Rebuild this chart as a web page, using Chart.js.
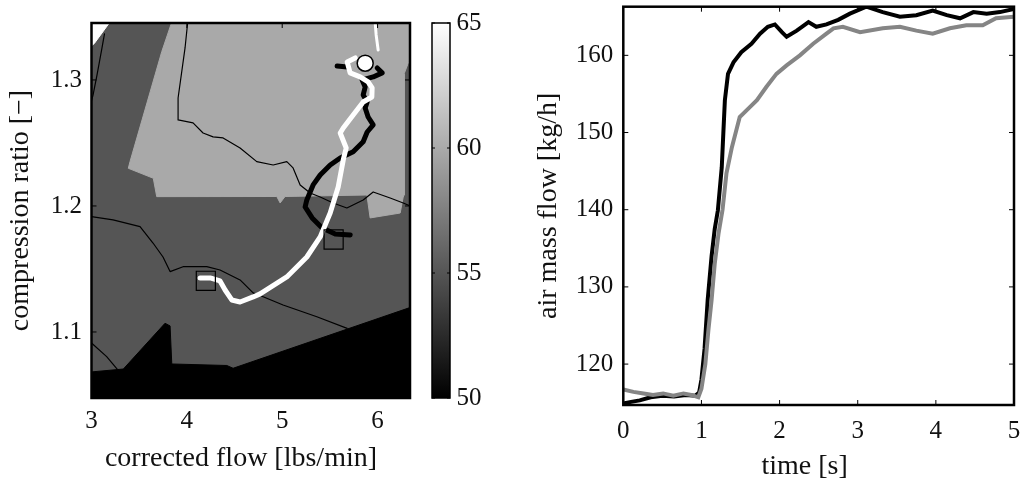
<!DOCTYPE html>
<html>
<head>
<meta charset="utf-8">
<script src="https://cdn.jsdelivr.net/npm/chart.js@4/dist/chart.umd.min.js"></script>
<style>
html, body { margin: 0; padding: 0; background: #fff; }
#wrap { position: relative; width: 1025px; height: 481px; overflow: hidden; }
canvas { position: absolute; top: 0; }
</style>
</head>
<body>
<div id="wrap">
  <canvas id="mapChart" width="420" height="481" style="left:0px"></canvas>
  <canvas id="barChart" width="105" height="481" style="left:420px"></canvas>
  <canvas id="flowChart" width="505" height="481" style="left:520px"></canvas>
</div>
<script>
// ---- compressor map (left) ----
var mapLight = [[3.842,1.346],[6.34,1.346],[6.34,1.317],[6.279,1.305],[6.279,1.2087],[6.269,1.2071],[6.237,1.1944],[5.922,1.1905],[5.888,1.2087],[5.030,1.2075],[4.978,1.2024],[4.943,1.2075],[3.684,1.2074],[3.648,1.222],[3.386,1.2299],[3.404,1.2352],[3.737,1.3225],[3.842,1.346]];
var mapCorner = [[3.0,1.346],[3.194,1.346],[3.03,1.329],[3.0,1.327]];
var mapBlack = [[3.0,1.0683],[3.334,1.0706],[3.771,1.1069],[3.824,1.1048],[3.842,1.0746],[4.419,1.0734],[4.485,1.0712],[6.34,1.1194],[6.34,1.04],[3.0,1.04]];

var isoA = [[3.136,1.3365],[3.110,1.3254],[3.058,1.304],[3.016,1.288],[3.0,1.2835]];
var isoB = [[4.009,1.346],[3.981,1.3254],[3.908,1.2857],[3.908,1.2683],[4.065,1.2659],[4.170,1.2579],[4.275,1.2548],[4.380,1.254],[4.558,1.246],[4.733,1.2352],[4.905,1.2325],[5.048,1.2352],[5.114,1.2302],[5.188,1.2167],[5.293,1.2103],[5.398,1.2071],[5.534,1.2024],[5.678,1.1984],[5.849,1.2048],[5.954,1.2111],[6.132,1.2063],[6.269,1.2024],[6.342,1.2]];
var isoC = [[3.0,1.1915],[3.226,1.1889],[3.509,1.1836],[3.645,1.1706],[3.750,1.1595],[3.824,1.1479],[3.960,1.1518],[4.209,1.1518],[4.348,1.1492],[4.558,1.1413],[4.695,1.131],[4.800,1.128],[5.009,1.1214],[5.363,1.1121],[5.681,1.1029]];
var isoD = [[3.0,1.0913],[3.159,1.0804],[3.278,1.0698]];

var whitePath = [[4.139,1.1429],[4.244,1.1429],[4.348,1.1405],[4.401,1.1333],[4.471,1.1254],[4.558,1.1238],[4.695,1.1278],[4.768,1.1302],[5.048,1.1437],[5.258,1.1595],[5.398,1.1754],[5.503,1.1944],[5.587,1.2151],[5.640,1.2365],[5.671,1.246],[5.608,1.2579],[5.640,1.2619],[5.744,1.2722],[5.849,1.2825],[5.940,1.2865],[5.943,1.2937],[5.901,1.2984],[5.817,1.3024],[5.712,1.3056],[5.681,1.3143],[5.765,1.3175]];
var whiteTail = [[5.975,1.3452],[5.985,1.3357],[6.006,1.3238]];
var blackPath = [[5.713,1.177],[5.556,1.1778],[5.419,1.1825],[5.314,1.1905],[5.240,1.1992],[5.258,1.2048],[5.324,1.2167],[5.398,1.2246],[5.503,1.2325],[5.608,1.2381],[5.744,1.2431],[5.849,1.251],[5.891,1.2587],[5.954,1.2643],[5.901,1.2706],[5.870,1.2778],[5.891,1.2825],[5.849,1.2881],[5.870,1.2944],[5.838,1.3],[5.954,1.3024],[6.048,1.3056],[5.996,1.3095]];
var blackStub = [[5.576,1.3111],[5.681,1.3103]];

var startSquares = [[4.199,1.1406],[5.539,1.1734]];
var endCircle = [[5.870,1.3133]];

// ---- colour bar ----
var barRange = [50, 65];

// ---- air mass flow (right) ----
var blackT = [0, 0.1, 0.21, 0.35, 0.5, 0.65, 0.8, 0.92, 0.97, 1.0, 1.04, 1.08, 1.13, 1.17, 1.21, 1.26, 1.28, 1.30, 1.34, 1.41, 1.51, 1.64, 1.75, 1.85, 1.94, 2.03, 2.09, 2.22, 2.37, 2.47, 2.6, 2.75, 2.9, 3.11, 3.32, 3.54, 3.75, 3.96, 4.14, 4.31, 4.48, 4.65, 4.82, 5.0];
var blackV = [114.9, 115.1, 115.3, 115.7, 115.9, 115.8, 116.0, 115.9, 116.3, 118.0, 122.0, 128.3, 134.0, 137.5, 139.9, 145.5, 149.9, 154.2, 157.6, 159.1, 160.4, 161.5, 162.8, 163.7, 164.0, 163.0, 162.4, 163.2, 164.3, 163.7, 164.0, 164.6, 165.4, 166.3, 165.6, 165.0, 165.2, 165.8, 165.2, 164.8, 165.6, 165.4, 165.6, 166.0];
var grayT = [0, 0.13, 0.26, 0.38, 0.51, 0.64, 0.77, 0.87, 0.96, 1.0, 1.05, 1.09, 1.13, 1.17, 1.22, 1.27, 1.32, 1.39, 1.49, 1.6, 1.71, 1.83, 1.96, 2.09, 2.26, 2.43, 2.6, 2.69, 2.81, 3.03, 3.32, 3.54, 3.75, 3.96, 4.18, 4.39, 4.6, 4.77, 5.0];
var grayV = [116.7, 116.4, 116.2, 116.0, 116.2, 115.9, 116.2, 116.0, 115.7, 116.8, 120.0, 124.5, 128.3, 133.0, 137.0, 140.0, 144.7, 148.1, 152.0, 153.1, 154.2, 155.9, 157.6, 158.7, 160.0, 161.5, 162.8, 163.5, 163.7, 163.0, 163.5, 163.7, 163.2, 162.8, 163.5, 163.9, 163.9, 164.8, 165.0];

Chart.defaults.font.family = "'Liberation Serif', 'Times New Roman', serif";
Chart.defaults.color = '#111';
Chart.defaults.animation = false;
Chart.defaults.plugins.legend.display = false;
Chart.defaults.plugins.tooltip.enabled = false;

const pts = arr => arr.map(p => ({x: p[0], y: p[1]}));
const xy = (xs, ys) => xs.map((x, i) => ({x: x, y: ys[i]}));

// fixed axis box size, and no extra room for labels hanging off the ends
function fixSize(w, h) {
  return s => {
    if (w != null) s.width = w;
    if (h != null) s.height = h;
    s.paddingTop = s.paddingBottom = s.paddingLeft = s.paddingRight = 0;
  };
}

// matlab style box with ticks pointing inwards
const frame = {
  id: 'frame',
  beforeDraw(chart, args, opts) {
    if (!opts.bg) return;
    const {ctx, chartArea: a} = chart;
    ctx.save();
    ctx.fillStyle = opts.bg;
    ctx.fillRect(a.left, a.top, a.right - a.left, a.bottom - a.top);
    ctx.restore();
  },
  afterDraw(chart, args, opts) {
    const {ctx, chartArea: a, scales} = chart;
    const len = opts.tickLen || 5;
    ctx.save();
    ctx.strokeStyle = '#000';
    ctx.lineWidth = 1;
    ctx.beginPath();
    Object.values(scales).forEach(s => {
      if (!s.options.display) return;
      s.ticks.forEach(t => {
        const p = s.getPixelForValue(t.value);
        if (s.isHorizontal()) {
          ctx.moveTo(p, a.bottom); ctx.lineTo(p, a.bottom - len);
          ctx.moveTo(p, a.top); ctx.lineTo(p, a.top + len);
        } else {
          ctx.moveTo(a.left, p); ctx.lineTo(a.left + len, p);
          ctx.moveTo(a.right, p); ctx.lineTo(a.right - len, p);
        }
      });
    });
    ctx.stroke();
    ctx.lineWidth = opts.width || 2;
    ctx.strokeRect(a.left, a.top, a.right - a.left, a.bottom - a.top);
    ctx.restore();
  }
};

const tickFont = {size: 25};
const titleFont = {size: 28, lineHeight: 1.0};

function area(data, color, order) {
  return {data: pts(data), showLine: true, fill: 'shape', backgroundColor: color,
          borderColor: color, borderWidth: 1, pointRadius: 0, order: order};
}
function path(data, color, width, order) {
  return {data: pts(data), showLine: true, fill: false, borderColor: color,
          borderWidth: width, pointRadius: 0, order: order, borderJoinStyle: 'round', borderCapStyle: 'round'};
}

new Chart(document.getElementById('mapChart'), {
  type: 'scatter',
  data: {
    datasets: [
      {data: pts(endCircle), pointStyle: 'circle', pointRadius: 8, backgroundColor: '#fff', borderColor: '#000', borderWidth: 1.5, order: 0},
      {data: pts(startSquares), pointStyle: 'rect', pointRadius: 13.5, backgroundColor: 'rgba(0,0,0,0)', borderColor: '#000', borderWidth: 1.2, order: 1},
      path(whitePath, '#fff', 5, 2),
      path(whiteTail, '#fff', 3, 2),
      path(blackPath, '#000', 5, 3),
      path(blackStub, '#000', 5, 3),
      path(isoA, '#000', 1.2, 4),
      path(isoB, '#000', 1.2, 4),
      path(isoC, '#000', 1.2, 4),
      path(isoD, '#000', 1.2, 4),
      area(mapBlack, '#000', 5),
      area(mapCorner, '#fff', 6),
      area(mapLight, '#a9a9a9', 7)
    ]
  },
  options: {
    responsive: false,
    layout: {autoPadding: false, padding: {left: 0, right: 10, top: 23, bottom: 0}},
    plugins: {frame: {bg: '#555555', width: 2.5}},
    scales: {
      x: {
        min: 3, max: 6.34,
        grid: {display: false, drawTicks: false},
        border: {display: false},
        ticks: {stepSize: 1, includeBounds: false, font: tickFont, padding: 8, maxRotation: 0},
        title: {display: true, text: 'corrected flow [lbs/min]\u2002\u2009', font: titleFont, padding: {top: 0, bottom: 8.5}},
        afterFit: fixSize(null, 83)
      },
      y: {
        min: 1.0476, max: 1.3452,
        grid: {display: false, drawTicks: false},
        border: {display: false},
        ticks: {stepSize: 0.1, includeBounds: false, font: tickFont, padding: 9.5, callback: v => v.toFixed(1)},
        title: {display: true, text: 'compression ratio [\u2212]', font: titleFont, padding: {top: 6.5, bottom: 0}},
        afterFit: fixSize(91.5, null)
      }
    }
  },
  plugins: [frame]
});

new Chart(document.getElementById('barChart'), {
  type: 'bar',
  data: {
    labels: ['level'],
    datasets: [{
      data: [barRange],
      barPercentage: 1, categoryPercentage: 1, borderWidth: 0,
      backgroundColor: c => {
        const ch = c.chart;
        if (!ch.chartArea) return '#888';
        const y = ch.scales.y;
        const g = ch.ctx.createLinearGradient(0, y.getPixelForValue(barRange[0]), 0, y.getPixelForValue(barRange[1]));
        g.addColorStop(0, '#000');
        g.addColorStop(1, '#fff');
        return g;
      }
    }]
  },
  options: {
    responsive: false,
    layout: {autoPadding: false, padding: {left: 12, right: 0, top: 23, bottom: 83}},
    plugins: {frame: {width: 1.5, tickLen: 3}},
    scales: {
      x: {display: false},
      y: {
        position: 'right', min: 50, max: 65,
        grid: {display: false, drawTicks: false},
        border: {display: false},
        ticks: {stepSize: 5, font: tickFont, padding: 6.5},
        afterFit: fixSize(75, null)
      }
    }
  },
  plugins: [frame]
});

new Chart(document.getElementById('flowChart'), {
  type: 'scatter',
  data: {
    datasets: [
      {data: xy(grayT, grayV), showLine: true, borderColor: '#858585', borderWidth: 4, pointRadius: 0, order: 0},
      {data: xy(blackT, blackV), showLine: true, borderColor: '#000', borderWidth: 4, pointRadius: 0, order: 1}
    ]
  },
  options: {
    responsive: false,
    layout: {autoPadding: false, padding: {left: 0, right: 11, top: 6.7, bottom: 0}},
    plugins: {frame: {width: 2.5}},
    scales: {
      x: {
        min: 0, max: 5,
        grid: {display: false, drawTicks: false},
        border: {display: false},
        ticks: {stepSize: 1, font: tickFont, padding: 11, maxRotation: 0},
        title: {display: true, text: 'time [s]\u2002\u2002', font: titleFont, padding: {top: 0, bottom: 0}},
        afterFit: fixSize(null, 76)
      },
      y: {
        min: 114.7, max: 166.3,
        grid: {display: false, drawTicks: false},
        border: {display: false},
        ticks: {stepSize: 10, includeBounds: false, font: tickFont, padding: 10},
        title: {display: true, text: 'air mass flow [kg/h]', font: titleFont, padding: {top: 14.5, bottom: 0}},
        afterFit: fixSize(103.3, null)
      }
    }
  },
  plugins: [frame]
});
</script>
</body>
</html>
